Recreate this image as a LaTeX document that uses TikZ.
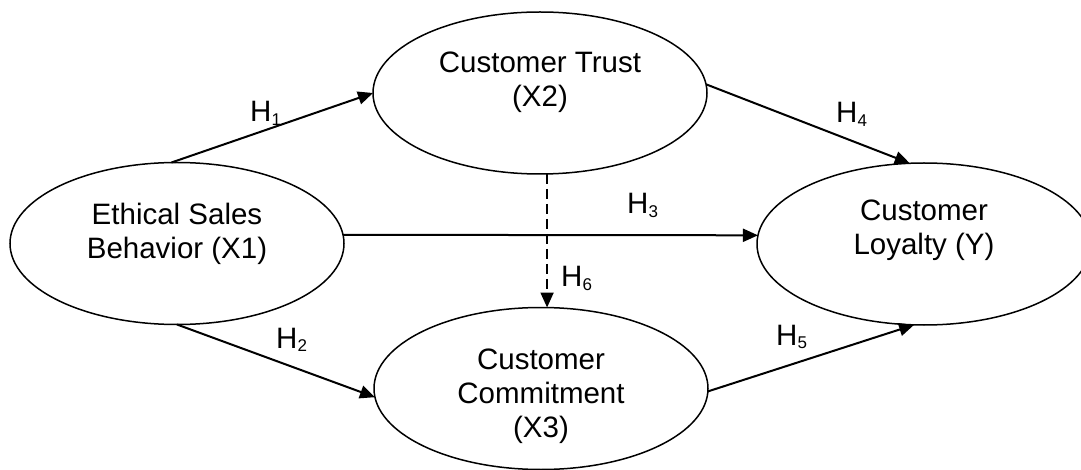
\documentclass[tikz,border=0pt]{standalone}
\usepackage{fontspec}
\setmainfont{Liberation Sans}
\usetikzlibrary{arrows.meta,shapes.geometric}

% hypothesis label with a lowered index
\newcommand\hypsub[1]{H\raisebox{-3.5pt}{\fontsize{17}{17}\selectfont #1}}

\begin{document}
\begin{tikzpicture}[x=1pt,y=-1pt,
  construct/.style={ellipse, draw, line width=1.5pt, minimum width=334pt,
    minimum height=162pt, inner sep=0pt, outer sep=0pt},
  ctext/.style={font=\fontsize{29.5}{34}\selectfont, align=center,
    inner sep=0pt, anchor=north},
  hlab/.style={font=\fontsize{29.5}{34}\selectfont, inner sep=0pt,
    anchor=base west},
  arr/.style={line width=2pt, -{Triangle[length=15pt,width=13pt]}},
  dasharr/.style={arr, dash pattern=on 10pt off 5pt}]

\useasboundingbox (0,0) rectangle (1081,470);
\clip (0,0) rectangle (1081,470);

% constructs
\node[construct] (x1) at (177,243.5) {};
\node[construct] (x2) at (540,93) {};
\node[construct] (x3) at (541,388.5) {};
\node[construct] (y)  at (924,244) {};

\node[ctext] (x1t) at ([yshift=-40pt]x1.north) {Ethical Sales\\Behavior (X1)};
\node[ctext] (x2t) at ([yshift=-40pt]x2.north) {Customer Trust\\(X2)};
\node[ctext] (x3t) at ([yshift=-41pt]x3.north) {Customer\\Commitment\\(X3)};
\node[ctext] (yt)  at ([yshift=-37pt]y.north)  {Customer\\Loyalty (Y)};

% hypothesised paths
\draw[arr] (x1.94) -- (x2.west);
\draw[arr] (x1.south) -- (x3.183);
\draw[arr] (x1.3) -- (y.177);
\draw[arr] (x2.3) -- (y.100);
\draw[arr] (x3.359) -- (y.263);
\draw[dasharr] (x2.275) -- (x2.275 |- x3.north);

% path labels
\node[hlab] (h1) at (250,122) {\hypsub{1}};
\node[hlab] (h2) at (276,348) {\hypsub{2}};
\node[hlab] (h3) at (627,214) {\hypsub{3}};
\node[hlab] (h4) at (836,123) {\hypsub{4}};
\node[hlab] (h5) at (776,345) {\hypsub{5}};
\node[hlab] (h6) at (561,287) {\hypsub{6}};
\end{tikzpicture}
\end{document}
